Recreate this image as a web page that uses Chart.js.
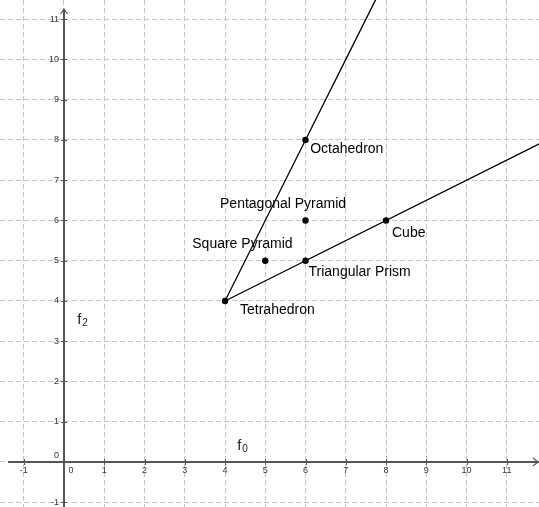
<!DOCTYPE html>
<html><head><meta charset="utf-8">
<script src="https://cdn.jsdelivr.net/npm/chart.js@4/dist/chart.umd.min.js"></script>
<style>html,body{margin:0;padding:0;background:#fff}#wrap{width:539px;height:507px;position:relative}</style>
</head><body><div id="wrap"><canvas id="c"></canvas></div>
<script>
// ---- data ----
const xTicks = [-1,0,1,2,3,4,5,6,7,8,9,10,11];
const yTicks = [-1,0,1,2,3,4,5,6,7,8,9,10,11];
const xTickLabels = ['-1','0','1','2','3','4','5','6','7','8','9','10','11'];
const yTickLabels = ['-1','0','1','2','3','4','5','6','7','8','9','10','11'];
const solids = ['Tetrahedron','Square Pyramid','Triangular Prism','Pentagonal Pyramid','Octahedron','Cube'];
const f0Values = [4,5,6,6,6,8];
const f2Values = [4,5,5,6,8,6];
// two rays from the Tetrahedron, through Octahedron and through Triangular Prism / Cube
const rayOctaX = [4,8];  const rayOctaY = [4,12];
const rayCubeX = [4,12]; const rayCubeY = [4,8];
const xAxisName = ['f','0'];
const yAxisName = ['f','2'];

// ---- style / layout ----
const view = {xMin:-1.590, xMax:11.801, yMin:-1.118, yMax:11.478};
const labelOffset = {
  'Tetrahedron':[15,13.5], 'Square Pyramid':[-73,-13], 'Triangular Prism':[3,15],
  'Pentagonal Pyramid':[-85.5,-12], 'Octahedron':[4.7,13], 'Cube':[6,17]
};
const axisNamePos = {x:[4.305,0.306], y:[0.33,3.43]};

const pts = f0Values.map((v,i)=>({x:v,y:f2Values[i]}));
const toXY = (xs,ys)=>xs.map((v,i)=>({x:v,y:ys[i]}));

const overlay = {
  id:'overlay',
  beforeDatasetsDraw(chart){
    const {ctx, chartArea:a} = chart;
    const xs = chart.scales.x, ys = chart.scales.y;
    const x0 = Math.round(xs.getPixelForValue(0)), y0 = Math.round(ys.getPixelForValue(0));
    ctx.save();
    ctx.strokeStyle = '#555'; ctx.lineWidth = 2; ctx.setLineDash([]);
    ctx.beginPath();
    ctx.moveTo(a.left+8, y0); ctx.lineTo(a.right, y0);
    ctx.moveTo(x0, a.bottom); ctx.lineTo(x0, a.top+9);
    ctx.stroke();
    ctx.lineWidth = 1.2;
    ctx.beginPath();
    ctx.moveTo(a.right-6, y0-4); ctx.lineTo(a.right-1, y0); ctx.lineTo(a.right-6, y0+4);
    ctx.moveTo(x0-3.5, a.top+14); ctx.lineTo(x0, a.top+9); ctx.lineTo(x0+3.5, a.top+14);
    ctx.stroke();
    // tick marks
    ctx.lineWidth = 1; ctx.strokeStyle = '#555';
    ctx.beginPath();
    xTicks.forEach(v=>{ if(v===0) return; const p=Math.round(xs.getPixelForValue(v))+0.5; ctx.moveTo(p,y0-3); ctx.lineTo(p,y0+3); });
    yTicks.forEach(v=>{ if(v===0) return; const p=Math.round(ys.getPixelForValue(v))+0.5; ctx.moveTo(x0-3,p); ctx.lineTo(x0+3,p); });
    ctx.stroke();
    // tick labels
    ctx.fillStyle = '#333'; ctx.font = '9px "Liberation Sans", Arial, sans-serif';
    xTicks.forEach((v,i)=>{
      const p = xs.getPixelForValue(v);
      if (v===0){ ctx.textAlign='left'; ctx.textBaseline='top'; ctx.fillText(xTickLabels[i], x0+4.5, y0+4); }
      else { ctx.textAlign='center'; ctx.textBaseline='top'; ctx.fillText(xTickLabels[i], p, y0+4); }
    });
    yTicks.forEach((v,i)=>{
      const p = ys.getPixelForValue(v);
      ctx.textAlign='right'; ctx.textBaseline='middle';
      if (v===0) ctx.fillText(yTickLabels[i], x0-5, y0-6);
      else ctx.fillText(yTickLabels[i], x0-5, p);
    });
    ctx.restore();
  },
  afterDatasetsDraw(chart){
    const {ctx} = chart;
    const xs = chart.scales.x, ys = chart.scales.y;
    ctx.save();
    ctx.fillStyle = '#000'; ctx.textAlign='left'; ctx.textBaseline='alphabetic';
    ctx.font = '14px "Liberation Sans", Arial, sans-serif';
    solids.forEach((n,i)=>{
      const px = xs.getPixelForValue(f0Values[i]), py = ys.getPixelForValue(f2Values[i]);
      const o = labelOffset[n];
      ctx.fillText(n, px+o[0], py+o[1]);
    });
    const drawName = (nm, pos)=>{
      const px = xs.getPixelForValue(pos[0]), py = ys.getPixelForValue(pos[1]);
      ctx.fillStyle = '#222';
      ctx.font = '15px "Liberation Sans", Arial, sans-serif';
      ctx.fillText(nm[0], px, py);
      const w = ctx.measureText(nm[0]).width;
      ctx.font = '10px "Liberation Sans", Arial, sans-serif';
      ctx.fillText(nm[1], px+w+0.8, py+2.5);
    };
    drawName(xAxisName, axisNamePos.x);
    drawName(yAxisName, axisNamePos.y);
    ctx.restore();
  }
};

const gridOpts = {color:'#c4c4c4', lineWidth:1, drawTicks:false};
new Chart(document.getElementById('c'), {
  type:'scatter',
  data:{datasets:[
    {label:'solids', data:pts, order:0, pointRadius:3.2, pointBackgroundColor:'#000', pointBorderWidth:0, showLine:false},
    {label:'ray1', data:toXY(rayOctaX,rayOctaY), order:1, showLine:true, borderColor:'#000', borderWidth:1.3, pointRadius:0},
    {label:'ray2', data:toXY(rayCubeX,rayCubeY), order:1, showLine:true, borderColor:'#000', borderWidth:1.3, pointRadius:0}
  ]},
  options:{
    responsive:true, maintainAspectRatio:false, animation:false,
    layout:{padding:0, autoPadding:false},
    plugins:{legend:{display:false}, tooltip:{enabled:false}},
    scales:{
      x:{type:'linear', position:{y:0}, min:view.xMin, max:view.xMax,
         afterBuildTicks:s=>{s.ticks = xTicks.map(v=>({value:v}));},
         ticks:{display:false}, grid:gridOpts, border:{display:false, dash:[5,3]}},
      y:{type:'linear', position:{x:0}, min:view.yMin, max:view.yMax,
         afterBuildTicks:s=>{s.ticks = yTicks.map(v=>({value:v}));},
         ticks:{display:false}, grid:gridOpts, border:{display:false, dash:[5,3]}}
    }
  },
  plugins:[overlay]
});
</script></body></html>
